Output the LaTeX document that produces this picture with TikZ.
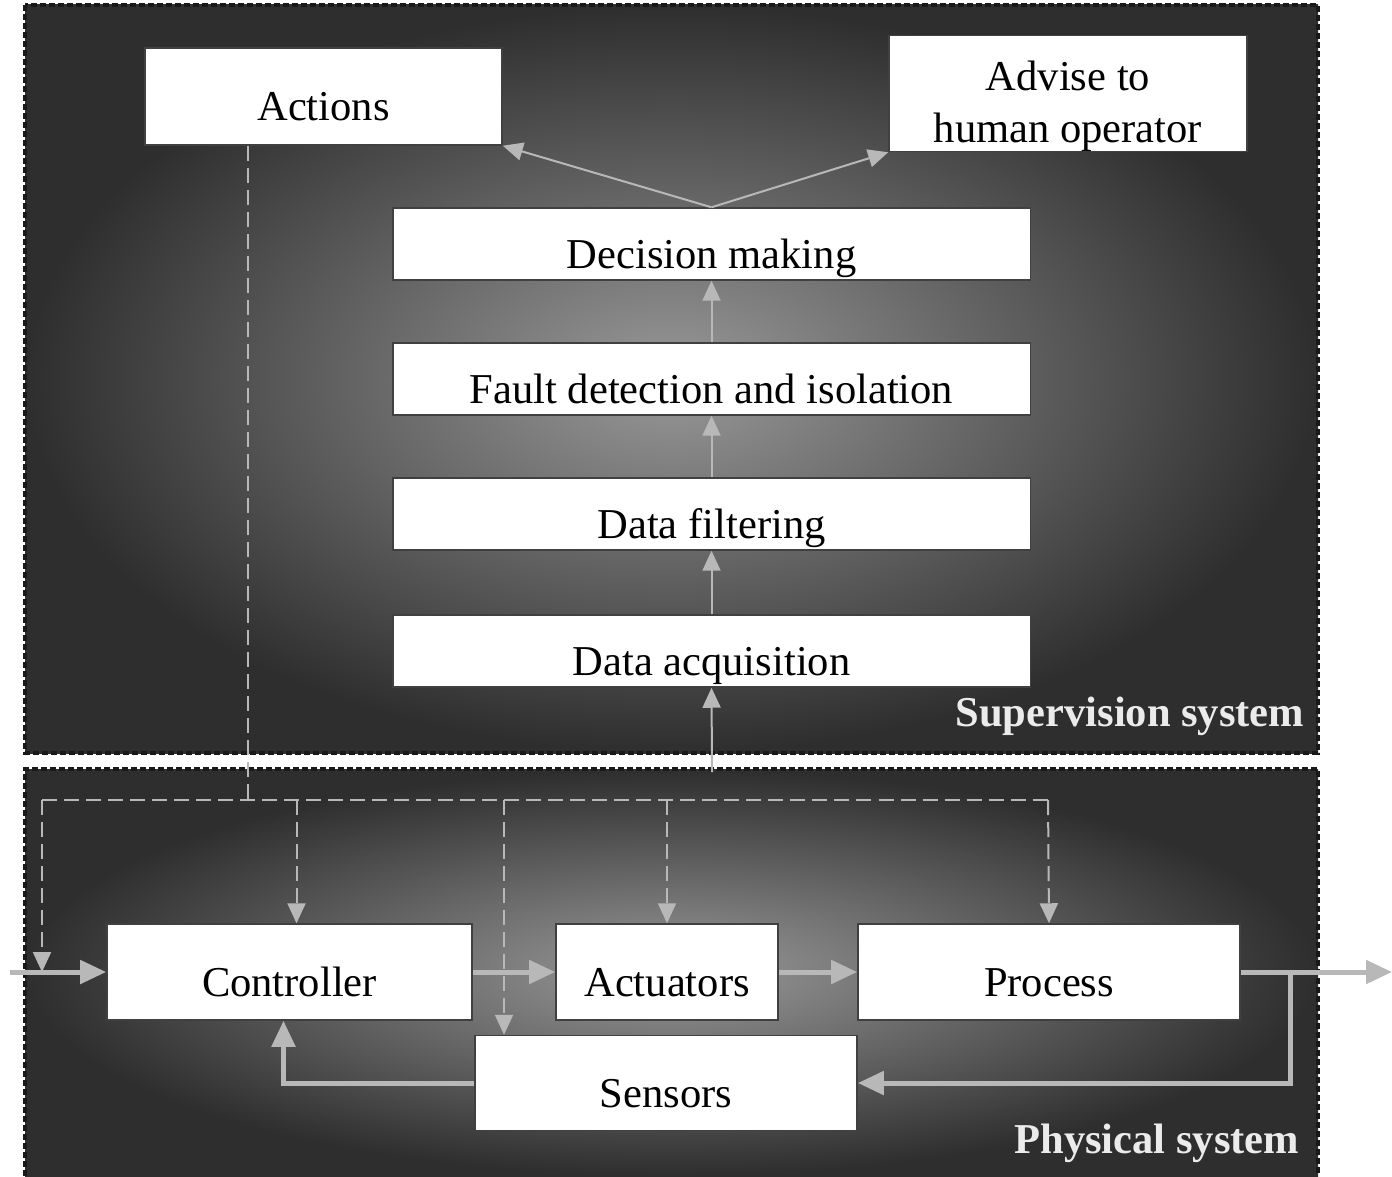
\documentclass[tikz,border=0pt]{standalone}
\usepackage{fontspec}
\setmainfont{Liberation Serif}
\usetikzlibrary{arrows.meta}

\tikzset{
  box/.style={draw=black!75, fill=white, line width=0.4pt, inner sep=0,
              align=center, font=\fontsize{12.1}{14.8}\selectfont},
  blk/.style={box, text height=0.5cm, text depth=0.02cm},
  flow/.style={-{Triangle[length=0.26cm,width=0.23cm]}, black!28, line width=0.05cm},
  sig/.style={-{Triangle[length=0.2cm,width=0.18cm]}, black!28, line width=0.02cm},
  cmd/.style={black!28, line width=0.02cm, dash pattern=on 0.15cm off 0.07cm},
  dsig/.style={cmd, -{Triangle[length=0.2cm,width=0.18cm]}},
  panel/.style={draw=black!90, line width=0.04cm, dash pattern=on 0.06cm off 0.03cm},
  tag/.style={font=\fontsize{12.1}{14.2}\selectfont\bfseries, text=black!8,
              anchor=east, inner sep=0},
}
\colorlet{bgin}{black!40}
\colorlet{bgout}{black!82}

\begin{document}
\begin{tikzpicture}[x=0.01cm, y=-0.01cm]
  \useasboundingbox (0,0) rectangle (1392,1176);

  % Panels
  \shade[inner color=bgin, outer color=bgout] (25,5) rectangle (1318,753);
  \draw[panel] (25,5) rectangle (1318,753);
  \shade[inner color=bgin, outer color=bgout] (25,769) rectangle (1318,1176);
  \draw[panel] (25,1176) -- (25,769) -- (1318,769) -- (1318,1176);

  % Supervision blocks
  \node[blk, minimum width=3.57cm, minimum height=0.97cm] (act) at (323.5,96.5) {Actions};
  \node[box, minimum width=3.58cm, minimum height=1.13cm] (adv) at (1068,93.5)
       {\rule{0pt}{0.55cm}Advise to\\human operator};
  \node[blk, minimum width=6.37cm, minimum height=0.72cm] (dec) at (711.5,244) {Decision making};
  \node[blk, minimum width=6.37cm, minimum height=0.72cm] (fdi) at (711.5,379) {Fault detection and isolation};
  \node[blk, minimum width=6.37cm, minimum height=0.72cm] (filt) at (711.5,514) {Data filtering};
  \node[blk, minimum width=6.37cm, minimum height=0.72cm] (acq) at (711.5,651) {Data acquisition};

  % Physical blocks
  \node[blk, minimum width=3.65cm, minimum height=0.96cm] (ctrl) at (289.5,972) {Controller};
  \node[blk, minimum width=2.22cm, minimum height=0.96cm] (actu) at (667,972) {Actuators};
  \node[blk, minimum width=3.82cm, minimum height=0.96cm] (proc) at (1049,972) {Process};
  \node[blk, minimum width=3.82cm, minimum height=0.95cm] (sens) at (666,1083) {Sensors};

  \node[tag] (supl) at (1305,716) {Supervision system};
  \node[tag] (phyl) at (1300,1143) {Physical system};

  % Supervision chain
  \coordinate (acqin) at (712,772);
  \draw[sig] (acqin) -- (acq.south);
  \draw[sig] (acq.north) -- (filt.south);
  \draw[sig] (filt.north) -- (fdi.south);
  \draw[sig] (fdi.north) -- (dec.south);
  \draw[sig] (dec.north) -- (act.south east);
  \draw[sig] (dec.north) -- (adv.south west);

  % Actions bus (dashed)
  \coordinate (bus) at (248,800);
  \coordinate (busL) at (42,800);
  \coordinate (busR) at (1048,800);
  \coordinate (sx) at (504,800);
  \coordinate (in) at (10,972);
  \draw[cmd] (act.south -| bus) -- (bus);
  \draw[cmd] (busL) -- (busR);
  \draw[dsig] (busL) -- (busL |- in);
  \draw[dsig] ([xshift=0.07cm]ctrl.north |- busL) -- ([xshift=0.07cm]ctrl.north);
  \draw[dsig] (sx) -- (sx |- sens.north);
  \draw[dsig] (actu.north |- busL) -- (actu.north);
  \draw[dsig] (busR) -- (proc.north);

  % Control loop
  \coordinate (out) at (1392,972);
  \coordinate (tap) at (1290,972);
  \draw[flow] (in) -- (ctrl.west);
  \draw[flow] (ctrl.east) -- (actu.west);
  \draw[flow] (actu.east) -- (proc.west);
  \draw[flow] (proc.east) -- (out);
  \draw[flow] (tap) |- (sens.east);
  \draw[flow] (sens.west) -| ([xshift=-0.06cm]ctrl.south);
\end{tikzpicture}
\end{document}
